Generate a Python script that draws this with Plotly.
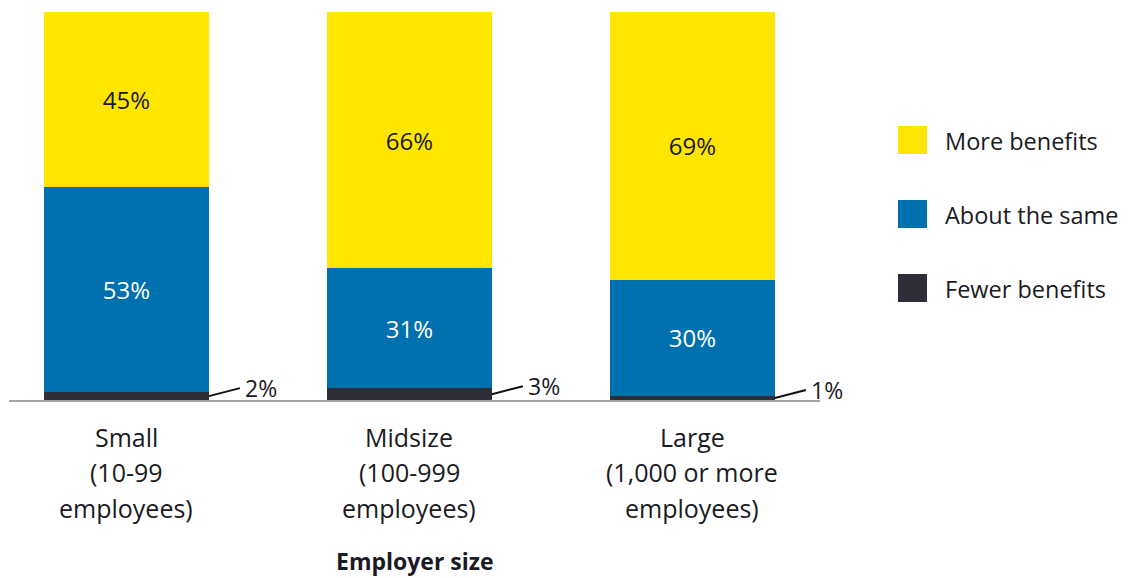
import plotly.graph_objects as go

# ---------------- data ----------------
categories = ["Small", "Midsize", "Large"]
category_lines = [
    ["Small", "(10-99", "employees)"],
    ["Midsize", "(100-999", "employees)"],
    ["Large", "(1,000 or more", "employees)"],
]
series_names = ["Fewer benefits", "About the same", "More benefits"]
fewer = [2, 3, 1]
same = [53, 31, 30]
more = [45, 66, 69]
axis_title = "Employer size"

# ---------------- style ----------------
FONT = "Open Sans"
C_MORE = "#FFE600"
C_SAME = "#0070AF"
C_FEWER = "#2E2E38"
TXT = "#1A1A24"
BAR_W = 0.583

OFF = 8  # page body margin
W, H = 1133 - OFF, 578 - OFF
PL, PR, PT, PB = 9, 820, 12, 400  # plot area in page pixels
ML, MT = PL - OFF, PT - OFF
MR = W - (PR - OFF)
MB = H - (PB - OFF)
PW = PR - PL
PH = PB - PT

def px_x(p):
    return (p - PL) / PW

def px_y(p):
    return (PB - p) / PH

x = list(range(len(categories)))

fig = go.Figure()
fig.add_trace(go.Bar(x=x, y=fewer, name=series_names[0], width=BAR_W,
                     marker=dict(color=C_FEWER, line=dict(width=0)),
                     hoverinfo="skip"))
fig.add_trace(go.Bar(x=x, y=same, name=series_names[1], width=BAR_W,
                     marker=dict(color=C_SAME, line=dict(width=0)),
                     texttemplate="%{y}%", textposition="inside",
                     insidetextanchor="middle", constraintext="none",
                     textfont=dict(family=FONT, size=24, color="white")))
fig.add_trace(go.Bar(x=x, y=more, name=series_names[2], width=BAR_W,
                     marker=dict(color=C_MORE, line=dict(width=0)),
                     texttemplate="%{y}%", textposition="inside",
                     insidetextanchor="middle", constraintext="none",
                     textfont=dict(family=FONT, size=24, color=TXT)))

annotations = []
# callouts for the small "fewer" segments
for i, v in enumerate(fewer):
    annotations.append(dict(
        x=i + BAR_W / 2, y=v / 2, xref="x", yref="y",
        text=f"{v}%", showarrow=True, arrowhead=0, arrowwidth=2,
        arrowcolor="#111111", ax=31, ay=-8, axref="pixel", ayref="pixel",
        xanchor="left", yanchor="middle", standoff=0, borderpad=4,
        font=dict(family=FONT, size=23, color=TXT)))

# category labels (multi-line)
line_px = [437, 472, 508]
for i, lines in enumerate(category_lines):
    for j, t in enumerate(lines):
        annotations.append(dict(
            x=i, y=px_y(line_px[j]), xref="x", yref="paper", text=t,
            showarrow=False, xanchor="center", yanchor="middle",
            font=dict(family=FONT, size=25, color=TXT)))

# axis title
annotations.append(dict(
    x=0.5, y=px_y(561), xref="paper", yref="paper", text=f"<b>{axis_title}</b>",
    showarrow=False, xanchor="center", yanchor="middle", borderpad=0,
    font=dict(family=FONT, size=23, color=TXT)))

# custom legend
shapes = []
legend_items = [(series_names[2], C_MORE, 140), (series_names[1], C_SAME, 214),
                (series_names[0], C_FEWER, 288)]
for name, col, cy in legend_items:
    shapes.append(dict(type="rect", xref="paper", yref="paper",
                       x0=px_x(898), x1=px_x(927), y0=px_y(cy + 14), y1=px_y(cy - 14),
                       fillcolor=col, line=dict(width=0)))
    annotations.append(dict(
        x=px_x(943), y=px_y(cy + 1), xref="paper", yref="paper", text=name,
        showarrow=False, xanchor="left", yanchor="middle",
        font=dict(family=FONT, size=23.5, color=TXT)))

fig.update_layout(
    width=W, height=H, barmode="stack", showlegend=False,
    margin=dict(l=ML, r=MR, t=MT, b=MB, pad=0),
    paper_bgcolor="white", plot_bgcolor="white",
    font=dict(family=FONT, color=TXT),
    xaxis=dict(range=[-0.415, 2.451], showline=True, linecolor="#A6A6A6",
               linewidth=2, showticklabels=False, showgrid=False,
               zeroline=False, ticks=""),
    yaxis=dict(range=[0, 100], visible=False),
    annotations=annotations, shapes=shapes,
)

fig.write_html("out.html")
